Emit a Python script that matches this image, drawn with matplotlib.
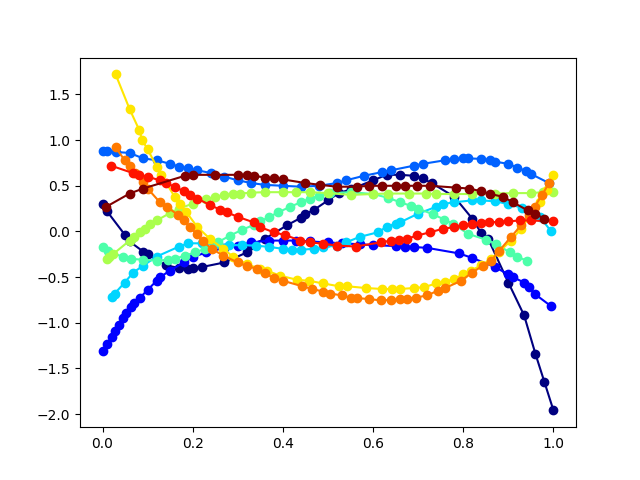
import matplotlib
matplotlib.use("Agg")
import matplotlib.pyplot as plt
import numpy as np

x0 = [0.00,0.01,0.05,0.06,0.09,0.10,0.14,0.17,0.19,0.20,0.22,0.27,0.32,0.33,0.36,0.41,0.44,0.45,0.47,0.50,0.524,0.55,0.60,0.63,0.66,0.69,0.71,0.73,0.78,0.82,0.84,0.855,0.90,0.935,0.96,0.98,1.00]
y0 = [0.30,0.22,-0.04,-0.11,-0.22,-0.25,-0.37,-0.40,-0.41,-0.40,-0.39,-0.34,-0.23,-0.15,-0.08,0.07,0.15,0.19,0.24,0.34,0.42,0.46,0.56,0.62,0.62,0.61,0.58,0.53,0.38,0.14,-0.02,-0.08,-0.56,-0.92,-1.34,-1.65,-1.96]

x1 = [0.00,0.01,0.02,0.027,0.036,0.045,0.053,0.062,0.07,0.082,0.10,0.12,0.128,0.149,0.18,0.20,0.23,0.27,0.30,0.33,0.37,0.40,0.43,0.46,0.50,0.53,0.57,0.60,0.65,0.67,0.69,0.72,0.79,0.82,0.87,0.90,0.91,0.935,0.945,0.96,0.995]
y1 = [-1.31,-1.23,-1.16,-1.09,-1.02,-0.95,-0.89,-0.83,-0.78,-0.73,-0.64,-0.54,-0.50,-0.43,-0.34,-0.28,-0.23,-0.18,-0.155,-0.12,-0.10,-0.10,-0.10,-0.11,-0.12,-0.13,-0.14,-0.15,-0.16,-0.17,-0.17,-0.18,-0.24,-0.29,-0.39,-0.47,-0.50,-0.56,-0.61,-0.69,-0.82]

x2 = [0.00,0.01,0.03,0.06,0.09,0.12,0.15,0.17,0.19,0.21,0.24,0.27,0.30,0.33,0.36,0.40,0.44,0.48,0.52,0.54,0.58,0.62,0.64,0.69,0.71,0.76,0.78,0.80,0.81,0.84,0.86,0.87,0.90,0.92,0.94,0.95,0.99]
y2 = [0.88,0.88,0.87,0.86,0.80,0.78,0.74,0.71,0.69,0.67,0.64,0.60,0.56,0.53,0.51,0.50,0.49,0.50,0.53,0.56,0.61,0.65,0.67,0.72,0.74,0.78,0.79,0.80,0.80,0.795,0.78,0.765,0.74,0.70,0.66,0.63,0.53]

x3 = [0.02,0.027,0.049,0.068,0.09,0.12,0.17,0.19,0.22,0.25,0.28,0.31,0.34,0.37,0.40,0.42,0.44,0.47,0.49,0.52,0.54,0.57,0.61,0.63,0.65,0.66,0.70,0.74,0.755,0.78,0.82,0.84,0.87,0.90,0.93,0.95,0.97,0.995]
y3 = [-0.72,-0.68,-0.56,-0.45,-0.375,-0.275,-0.165,-0.13,-0.13,-0.14,-0.15,-0.15,-0.155,-0.17,-0.19,-0.20,-0.20,-0.19,-0.17,-0.155,-0.12,-0.06,-0.01,0.05,0.085,0.10,0.195,0.27,0.30,0.32,0.34,0.34,0.33,0.30,0.26,0.21,0.16,0.00]

x4 = [0.00,0.012,0.045,0.064,0.09,0.12,0.145,0.16,0.183,0.205,0.228,0.255,0.283,0.31,0.335,0.35,0.37,0.39,0.416,0.44,0.46,0.48,0.505,0.55,0.60,0.632,0.66,0.684,0.70,0.732,0.758,0.777,0.81,0.85,0.873,0.903,0.92,0.942]
y4 = [-0.17,-0.21,-0.28,-0.30,-0.31,-0.32,-0.31,-0.30,-0.265,-0.23,-0.19,-0.12,-0.045,0.02,0.07,0.11,0.16,0.21,0.27,0.32,0.36,0.39,0.42,0.43,0.41,0.37,0.32,0.28,0.25,0.19,0.13,0.085,-0.025,-0.09,-0.135,-0.23,-0.28,-0.32]

x5 = [0.01,0.015,0.023,0.06,0.07,0.082,0.094,0.105,0.12,0.149,0.17,0.20,0.23,0.25,0.27,0.29,0.305,0.33,0.36,0.40,0.43,0.46,0.50,0.55,0.60,0.632,0.68,0.717,0.74,0.78,0.82,0.87,0.91,0.95,0.977,1.00]
y5 = [-0.30,-0.28,-0.25,-0.10,-0.06,-0.01,0.03,0.085,0.12,0.20,0.25,0.305,0.35,0.38,0.40,0.41,0.415,0.425,0.43,0.43,0.43,0.43,0.42,0.40,0.41,0.415,0.415,0.415,0.41,0.41,0.41,0.415,0.42,0.42,0.43,0.43]

x6 = [0.029,0.06,0.081,0.088,0.10,0.12,0.13,0.16,0.171,0.186,0.21,0.238,0.268,0.29,0.32,0.35,0.365,0.394,0.432,0.457,0.49,0.524,0.542,0.584,0.62,0.643,0.66,0.69,0.713,0.74,0.76,0.78,0.80,0.817,0.84,0.862,0.88,0.906,0.928,0.95,0.97,0.985,1.00]
y6 = [1.72,1.34,1.115,1.00,0.90,0.71,0.62,0.38,0.305,0.21,0.05,-0.08,-0.19,-0.28,-0.36,-0.41,-0.43,-0.485,-0.53,-0.54,-0.57,-0.60,-0.60,-0.62,-0.63,-0.63,-0.63,-0.62,-0.61,-0.57,-0.55,-0.52,-0.47,-0.43,-0.37,-0.30,-0.22,-0.10,0.03,0.18,0.32,0.45,0.62]

x7 = [0.029,0.049,0.06,0.071,0.09,0.10,0.127,0.142,0.168,0.18,0.194,0.209,0.223,0.242,0.268,0.30,0.32,0.343,0.36,0.38,0.40,0.443,0.465,0.49,0.505,0.53,0.55,0.565,0.59,0.617,0.64,0.66,0.676,0.695,0.72,0.743,0.76,0.795,0.82,0.843,0.862,0.88,0.906,0.928,0.945,0.958,0.975,0.99]
y7 = [0.92,0.78,0.72,0.64,0.54,0.47,0.32,0.27,0.18,0.12,0.047,-0.03,-0.11,-0.19,-0.265,-0.34,-0.38,-0.41,-0.46,-0.51,-0.54,-0.60,-0.63,-0.66,-0.68,-0.70,-0.725,-0.73,-0.74,-0.755,-0.75,-0.745,-0.735,-0.725,-0.70,-0.65,-0.62,-0.54,-0.45,-0.375,-0.32,-0.21,-0.06,0.066,0.18,0.27,0.40,0.53]

x8 = [0.019,0.067,0.08,0.10,0.127,0.14,0.16,0.18,0.194,0.21,0.238,0.26,0.275,0.30,0.335,0.35,0.38,0.405,0.439,0.46,0.49,0.52,0.561,0.617,0.64,0.658,0.675,0.698,0.726,0.755,0.78,0.80,0.82,0.84,0.858,0.88,0.899,0.925,0.951,1.00]
y8 = [0.72,0.64,0.62,0.60,0.56,0.53,0.49,0.44,0.40,0.36,0.29,0.24,0.21,0.16,0.10,0.047,-0.01,-0.04,-0.10,-0.12,-0.135,-0.155,-0.165,-0.12,-0.10,-0.09,-0.08,-0.044,-0.01,0.03,0.047,0.07,0.085,0.095,0.10,0.105,0.11,0.12,0.12,0.11]

x9 = [0.008,0.06,0.09,0.183,0.201,0.25,0.30,0.32,0.336,0.36,0.38,0.40,0.45,0.483,0.52,0.565,0.59,0.62,0.65,0.67,0.698,0.727,0.784,0.813,0.84,0.86,0.888,0.91,0.943,0.96,0.98]
y9 = [0.27,0.415,0.47,0.61,0.62,0.62,0.62,0.615,0.61,0.59,0.58,0.57,0.53,0.51,0.49,0.49,0.50,0.50,0.50,0.50,0.50,0.50,0.48,0.47,0.44,0.41,0.38,0.32,0.23,0.19,0.14]

xs = [x0, x1, x2, x3, x4, x5, x6, x7, x8, x9]
ys = [y0, y1, y2, y3, y4, y5, y6, y7, y8, y9]

colors = plt.cm.jet(np.linspace(0, 1, len(xs)))

fig, ax = plt.subplots(figsize=(6.4, 4.8), dpi=100)
for x, y, c in zip(xs, ys, colors):
    ax.plot(x, y, '-o', color=c)
fig.savefig("out.png")
